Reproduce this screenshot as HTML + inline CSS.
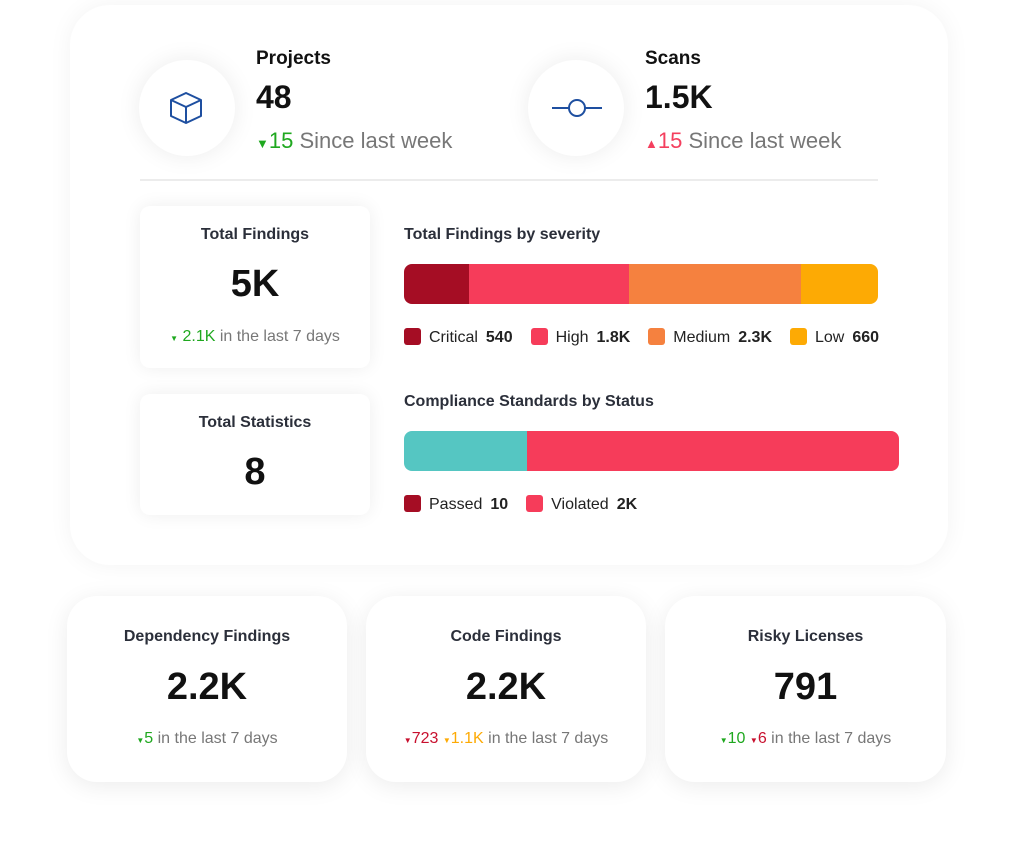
<!DOCTYPE html>
<html><head><style>
*{margin:0;padding:0;box-sizing:border-box}
body{width:1024px;height:862px;background:#fff;position:relative;font-family:"Liberation Sans",sans-serif;color:#111;overflow:hidden}
.abs{position:absolute}
.main{left:70px;top:5px;width:878px;height:560px;border-radius:40px;background:#fff;box-shadow:0 0 24px rgba(0,0,0,0.05)}
.circ{width:96px;height:96px;border-radius:50%;background:#fff;box-shadow:0 0 24px rgba(0,0,0,0.08)}
.card{background:#fff;border-radius:10px;box-shadow:0 0 18px rgba(0,0,0,0.07)}
.bcard{background:#fff;border-radius:30px;box-shadow:0 4px 24px rgba(0,0,0,0.08)}
.t{white-space:nowrap}
.ctr{text-align:center}
.sw{display:inline-block;width:17px;height:17px;border-radius:3px;vertical-align:-3px;margin-right:8px}
.leg{font-size:16px;color:#222}
.leg b{margin-left:8px;margin-right:18px}
</style></head><body>
<div class="abs main"></div>
<div class="abs circ" style="left:139px;top:60px"></div>
<svg class="abs" style="left:168px;top:90px" width="36" height="36" viewBox="0 0 36 36"><g fill="none" stroke="#1e4fa0" stroke-width="2" stroke-linejoin="round"><path d="M18 3 L33 10 L33 26 L18 33 L3 26 L3 10 Z"/><path d="M3 10 L18 17 L33 10 M18 17 L18 33"/></g></svg>
<div class="abs circ" style="left:528px;top:60px"></div>
<svg class="abs" style="left:552px;top:98px" width="50" height="20"><line x1="0" y1="10" x2="50" y2="10" stroke="#1e4fa0" stroke-width="2"/><circle cx="25" cy="10" r="8" fill="#fff" stroke="#1e4fa0" stroke-width="2"/></svg>

<div class="abs t" style="left:256px;top:48px;font-size:19px;font-weight:bold">Projects</div>
<div class="abs t" style="left:256px;top:79px;font-size:32px;font-weight:bold">48</div>
<div class="abs t" style="left:256px;top:128px;font-size:22px;color:#777"><span style="color:#1fa81f;font-size:13px">▼</span><span style="color:#1fa81f">15</span> Since last week</div>
<div class="abs t" style="left:645px;top:48px;font-size:19px;font-weight:bold">Scans</div>
<div class="abs t" style="left:645px;top:79px;font-size:32px;font-weight:bold">1.5K</div>
<div class="abs t" style="left:645px;top:128px;font-size:22px;color:#777"><span style="color:#f43f5e;font-size:13px">▲</span><span style="color:#f43f5e">15</span> Since last week</div>
<div class="abs" style="left:140px;top:179px;width:738px;height:2px;background:#ececec"></div>

<div class="abs card" style="left:140px;top:206px;width:230px;height:162px"></div>
<div class="abs t ctr" style="left:140px;top:226px;width:230px;font-size:16px;font-weight:bold;color:#2b2f3a">Total Findings</div>
<div class="abs t ctr" style="left:140px;top:263px;width:230px;font-size:38px;font-weight:bold">5K</div>
<div class="abs t ctr" style="left:140px;top:328px;width:230px;font-size:16px;color:#777"><span style="color:#1fa81f;font-size:8px">▼</span> <span style="color:#1fa81f">2.1K</span> in the last 7 days</div>
<div class="abs card" style="left:140px;top:394px;width:230px;height:121px"></div>
<div class="abs t ctr" style="left:140px;top:414px;width:230px;font-size:16px;font-weight:bold;color:#2b2f3a">Total Statistics</div>
<div class="abs t ctr" style="left:140px;top:451px;width:230px;font-size:38px;font-weight:bold">8</div>

<div class="abs t" style="left:404px;top:226px;font-size:16px;font-weight:bold;color:#2b2f3a">Total Findings by severity</div>
<div class="abs" style="left:404px;top:264px;width:474px;height:40px;border-radius:8px;overflow:hidden;display:flex">
<div style="width:65px;background:#a50d24"></div><div style="width:160px;background:#f63c5a"></div><div style="width:172px;background:#f5813f"></div><div style="flex:1;background:#fdaa04"></div></div>
<div class="abs t leg" style="left:404px;top:328px"><span class="sw" style="background:#a50d24"></span>Critical<b>540</b><span class="sw" style="background:#f63c5a"></span>High<b>1.8K</b><span class="sw" style="background:#f5813f"></span>Medium<b>2.3K</b><span class="sw" style="background:#fdaa04"></span>Low<b>660</b></div>

<div class="abs t" style="left:404px;top:393px;font-size:16px;font-weight:bold;color:#2b2f3a">Compliance Standards by Status</div>
<div class="abs" style="left:404px;top:431px;width:495px;height:40px;border-radius:8px;overflow:hidden;display:flex">
<div style="width:123px;background:#55c6c2"></div><div style="flex:1;background:#f63c5a"></div></div>
<div class="abs t leg" style="left:404px;top:495px"><span class="sw" style="background:#a50d24"></span>Passed<b>10</b><span class="sw" style="background:#f63c5a"></span>Violated<b>2K</b></div>

<div class="abs bcard" style="left:67px;top:596px;width:280px;height:186px"></div>
<div class="abs bcard" style="left:366px;top:596px;width:280px;height:186px"></div>
<div class="abs bcard" style="left:665px;top:596px;width:281px;height:186px"></div>
<div class="abs t ctr" style="left:67px;top:628px;width:280px;font-size:16px;font-weight:bold;color:#2b2f3a">Dependency Findings</div>
<div class="abs t ctr" style="left:67px;top:666px;width:280px;font-size:38px;font-weight:bold">2.2K</div>
<div class="abs t ctr" style="left:67px;top:730px;width:280px;font-size:16px;color:#777"><span style="color:#1fa81f;font-size:8px">▼</span><span style="color:#1fa81f">5</span> in the last 7 days</div>
<div class="abs t ctr" style="left:366px;top:628px;width:280px;font-size:16px;font-weight:bold;color:#2b2f3a">Code Findings</div>
<div class="abs t ctr" style="left:366px;top:666px;width:280px;font-size:38px;font-weight:bold">2.2K</div>
<div class="abs t ctr" style="left:366px;top:730px;width:280px;font-size:16px;color:#777"><span style="color:#c8102e;font-size:8px">▼</span><span style="color:#c8102e">723</span> <span style="color:#fdaa04;font-size:8px">▼</span><span style="color:#fdaa04">1.1K</span> in the last 7 days</div>
<div class="abs t ctr" style="left:665px;top:628px;width:281px;font-size:16px;font-weight:bold;color:#2b2f3a">Risky Licenses</div>
<div class="abs t ctr" style="left:665px;top:666px;width:281px;font-size:38px;font-weight:bold">791</div>
<div class="abs t ctr" style="left:665px;top:730px;width:281px;font-size:16px;color:#777"><span style="color:#1fa81f;font-size:8px">▼</span><span style="color:#1fa81f">10</span> <span style="color:#c8102e;font-size:8px">▼</span><span style="color:#c8102e">6</span> in the last 7 days</div>
</body></html>
